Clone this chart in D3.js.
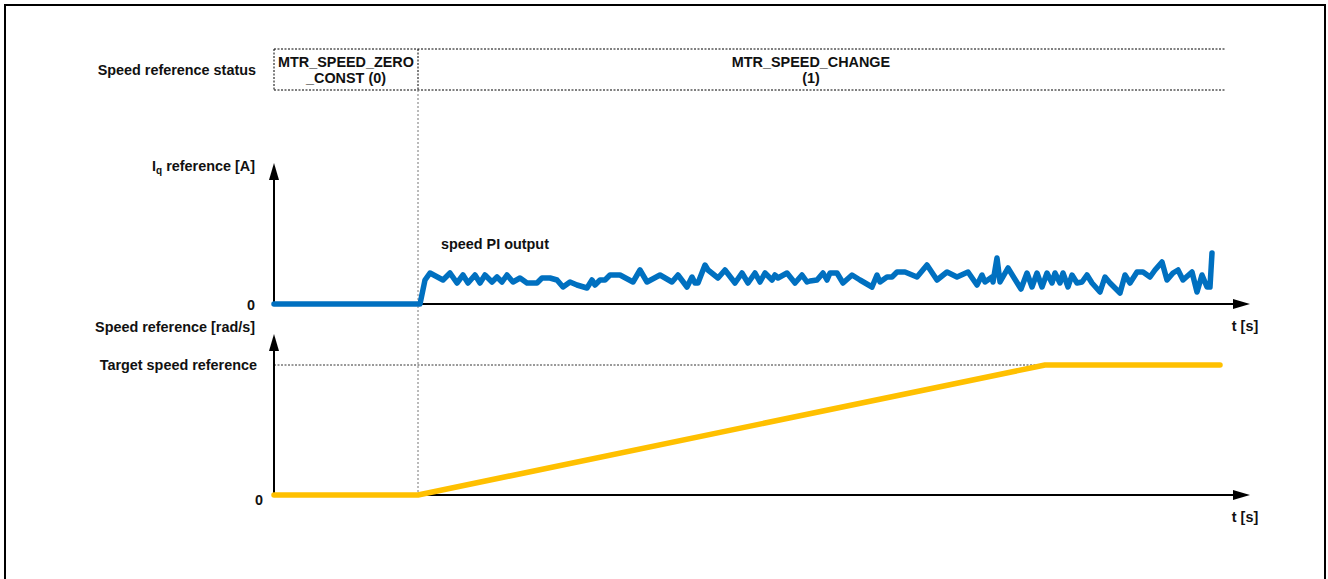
<!DOCTYPE html>
<html><head><meta charset="utf-8">
<script src="https://cdn.jsdelivr.net/npm/d3@7"></script>
<style>body{margin:0;background:#fff}svg{display:block}text{font-family:"Liberation Sans",Arial,sans-serif;font-weight:bold;font-size:14.4px;fill:#111}</style>
</head><body><svg id="c" width="1328" height="579"></svg>
<script>
// ---- data ----
const statusNames = [["MTR_SPEED_ZERO", "_CONST (0)"], ["MTR_SPEED_CHANGE", "(1)"]];
const statusBounds = [0, 14.4, 95.1];      // time units
const statusTextT = [7.2, 53.7];
const switchT = 14.4;
const iqT = [0,14.4,14.6,15.1,15.6,16.9,17.6,18.3,18.9,19.4,20.1,20.6,21.1,21.8,22.3,22.8,23.3,23.9,24.6,25.3,26.3,26.8,27.6,28.3,28.9,29.6,30.3,31.3,31.8,32.1,32.6,33.1,33.6,34.6,35.9,36.6,37.3,38.6,39.8,40.4,41.3,41.8,42.1,42.4,43.1,43.4,44.4,45.1,46.1,46.8,47.4,48.1,48.6,49.1,49.8,50.1,50.4,51.3,52.1,52.8,53.3,53.6,54.3,54.9,55.3,55.6,56.3,56.9,57.8,58.6,59.8,60.3,60.6,61.3,61.8,62.3,63.1,64.3,65.3,66.3,67.3,68.3,69.4,70.3,70.8,71.1,71.8,71.9,72.3,72.6,73.4,74.7,75.3,75.8,76.3,76.8,77.3,77.8,78.1,78.6,78.9,79.4,79.8,80.3,80.8,81.3,81.8,82.6,83.1,83.6,84.6,85.1,85.6,86.3,86.9,87.6,88.1,88.8,89.3,89.9,90.4,90.9,91.8,92.3,92.8,93.3,93.6,93.8];
const iqV = [0,0,0,2.4,3.1,2.4,3.1,2.1,2.9,2.1,2.9,2.1,2.9,2.2,2.7,2.2,2.9,2.2,2.6,2.1,2.1,2.6,2.6,2.4,1.7,2.2,1.9,1.6,2.4,1.9,2.4,2.4,2.9,2.9,2.2,3.4,2.2,2.9,2.2,2.9,1.7,2.7,2.1,2.1,3.9,3.4,2.6,3.4,2.1,3.1,2.1,3.1,2.2,3.1,2.4,2.9,2.6,3.1,2.1,2.9,2.2,2.3,2.4,3.1,2.4,3.1,3.1,2.1,2.9,2.4,1.7,2.9,2.2,2.7,2.7,3.2,3.2,2.7,3.9,2.4,3.2,2.7,3.2,1.9,2.9,2.2,2.7,2.2,4.6,2.2,3.6,1.5,3.1,1.7,3.1,1.7,3.1,2.1,3.1,2.1,3.1,1.7,2.9,2.1,2.2,2.9,2.1,1.2,2.7,2.1,1.1,2.9,2.1,3.2,3.2,2.7,3.4,4.2,2.4,3.1,3.4,2.4,3.2,1.2,2.9,1.7,1.7,5.1];
const spdT = [0, 14.4, 77.1, 94.6];
const spdV = [0, 0, 13, 13];
const targetSpeed = 13;
const labels = {status:"Speed reference status", iq:"reference [A]", spd:"Speed reference [rad/s]", target:"Target speed reference", pi:"speed PI output", t:"t [s]", zero:"0"};

// ---- layout ----
const svg = d3.select("#c");
const x = d3.scaleLinear().domain([0, 96]).range([274, 1234]);
const yI = d3.scaleLinear().domain([0, 14]).range([304, 164]);
const yS = d3.scaleLinear().domain([0, 16]).range([495, 335]);
const axisEnd = x.range()[1] + 16;

svg.append("rect").attr("x",5).attr("y",5).attr("width",1320).attr("height",620).attr("fill","none").attr("stroke","#000").attr("stroke-width",2);

// status box
const sb = {top:49, bot:90};
const dot = "2,1.5";
[sb.top, sb.bot].forEach(yy => svg.append("line").attr("x1",x(statusBounds[0])).attr("x2",x(statusBounds[2])).attr("y1",yy).attr("y2",yy).attr("stroke","#000").attr("stroke-width",1).attr("stroke-dasharray",dot));
svg.append("line").attr("x1",x(0)).attr("x2",x(0)).attr("y1",sb.top).attr("y2",sb.bot).attr("stroke","#000").attr("stroke-dasharray",dot);
svg.append("line").attr("x1",x(switchT)).attr("x2",x(switchT)).attr("y1",sb.top).attr("y2",sb.bot).attr("stroke","#000").attr("stroke-dasharray",dot);
svg.append("line").attr("x1",x(switchT)).attr("x2",x(switchT)).attr("y1",sb.bot).attr("y2",yS(0)+3).attr("stroke","#777").attr("stroke-dasharray","2,2");
statusNames.forEach((n,i)=>{
  const t = svg.append("text").attr("text-anchor","middle").attr("x",x(statusTextT[i]));
  t.append("tspan").attr("x",x(statusTextT[i])).attr("y",67).text(n[0]);
  t.append("tspan").attr("x",x(statusTextT[i])).attr("y",83).text(n[1]);
});
svg.append("text").attr("text-anchor","end").attr("x",256).attr("y",75).text(labels.status);

function axes(y, top){
  svg.append("line").attr("x1",x(0)).attr("x2",x(0)).attr("y1",y(0)+1).attr("y2",top+14).attr("stroke","#000").attr("stroke-width",2);
  svg.append("path").attr("d",`M${x(0)},${top} L${x(0)-5},${top+17} L${x(0)+5},${top+17}Z`).attr("fill","#000");
  svg.append("line").attr("x1",x(0)-1).attr("x2",axisEnd-14).attr("y1",y(0)).attr("y2",y(0)).attr("stroke","#000").attr("stroke-width",2);
  svg.append("path").attr("d",`M${axisEnd},${y(0)} L${axisEnd-17},${y(0)-5} L${axisEnd-17},${y(0)+5}Z`).attr("fill","#000");
  svg.append("text").attr("text-anchor","middle").attr("x",axisEnd-5).attr("y",y(0)+27).text(labels.t);
}
axes(yI, 163);
axes(yS, 334);

// target dashed line
svg.append("line").attr("x1",x(0)).attr("x2",x(spdT[2])).attr("y1",yS(targetSpeed)).attr("y2",yS(targetSpeed)).attr("stroke","#000").attr("stroke-width",0.8).attr("stroke-dasharray","2,1.5");

// labels
const iqL = svg.append("text").attr("text-anchor","end").attr("x",255).attr("y",171);
iqL.append("tspan").text("I");
iqL.append("tspan").attr("font-size","10px").attr("dy",3).text("q");
iqL.append("tspan").attr("dy",-3).text(" "+labels.iq);
svg.append("text").attr("text-anchor","middle").attr("x",251).attr("y",yI(0)+6).text(labels.zero);
svg.append("text").attr("text-anchor","end").attr("x",255).attr("y",332).text(labels.spd);
svg.append("text").attr("text-anchor","end").attr("x",257).attr("y",yS(targetSpeed)+5).text(labels.target);
svg.append("text").attr("text-anchor","middle").attr("x",259).attr("y",yS(0)+10).text(labels.zero);
svg.append("text").attr("x",441).attr("y",249).text(labels.pi);

// series
const lineI = d3.line().x(d=>x(d[0])).y(d=>yI(d[1]));
svg.append("path").datum(iqT.map((t,i)=>[t,iqV[i]])).attr("d",lineI).attr("fill","none").attr("stroke","#0070C0").attr("stroke-width",5.5).attr("stroke-linejoin","round").attr("stroke-linecap","round");
const lineS = d3.line().x(d=>x(d[0])).y(d=>yS(d[1]));
svg.append("path").datum(spdT.map((t,i)=>[t,spdV[i]])).attr("d",lineS).attr("fill","none").attr("stroke","#FFC000").attr("stroke-width",5.5).attr("stroke-linejoin","round").attr("stroke-linecap","round");
</script></body></html>
